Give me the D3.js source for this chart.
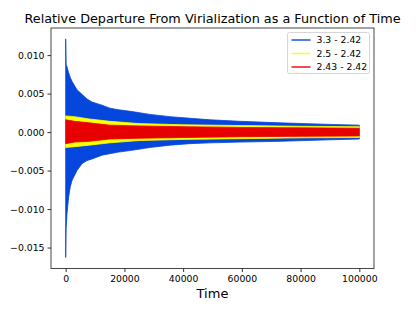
<!DOCTYPE html>
<html>
<head>
<meta charset="utf-8">
<script src="https://cdn.jsdelivr.net/npm/d3@7"></script>
<style>
  body { margin: 0; background: #fff; }
  svg text { font-family: "DejaVu Sans", sans-serif; fill: #000; }
</style>
</head>
<body>
<div id="chart"></div>
<script>
// envelope of each oscillating series (upper / lower)
var blueTime  = [0, 150, 440, 1020, 1570, 2150, 3850, 5550, 7250, 8960, 12360, 15090, 18000, 22000, 28700, 35500, 42300, 49100, 59300, 73000, 90000, 100000]
var blueUpper = [0.0121, 0.0088, 0.0085, 0.0077, 0.0071, 0.0066, 0.0055, 0.0049, 0.0043, 0.0039, 0.0035, 0.0031, 0.0029, 0.0027, 0.0023, 0.0020, 0.0018, 0.0016, 0.0014, 0.0012, 0.0010, 0.0009]
var blueLower = [-0.0163, -0.0125, -0.0106, -0.0084, -0.0071, -0.0063, -0.0050, -0.0041, -0.0037, -0.0035, -0.0030, -0.0028, -0.0026, -0.0024, -0.0020, -0.0017, -0.0015, -0.0014, -0.0013, -0.0012, -0.0010, -0.0009]

var yellowTime  = [0, 3000, 8000, 15000, 25000, 40000, 60000, 80000, 100000]
var yellowUpper = [0.0021, 0.0020, 0.0017, 0.0014, 0.0011, 0.00095, 0.00085, 0.00075, 0.0007]
var yellowLower = [-0.0020, -0.0019, -0.0017, -0.0014, -0.0011, -0.00095, -0.00085, -0.00075, -0.0007]

var redTime  = [0, 3000, 8000, 15000, 25000, 40000, 60000, 80000, 100000]
var redUpper = [0.0016, 0.0014, 0.0012, 0.0009, 0.0008, 0.0007, 0.0006, 0.00055, 0.0005]
var redLower = [-0.0015, -0.0013, -0.0012, -0.0009, -0.0008, -0.0007, -0.0006, -0.00055, -0.0005]

var seriesNames = ["3.3 - 2.42", "2.5 - 2.42", "2.43 - 2.42"]
var seriesColors = ["#0546dc", "#ffff00", "#e60000"]

var xTicks = [0, 20000, 40000, 60000, 80000, 100000]
var yTicks = [0.010, 0.005, 0.000, -0.005, -0.010, -0.015]

var width = 416, height = 319
var margin = {top: 28, right: 42, bottom: 50.5, left: 51}

var svg = d3.select("#chart")
  .append("svg")
    .attr("width", width)
    .attr("height", height)

// matplotlib-like 5% padding
var yMin = d3.min(blueLower), yMax = d3.max(blueUpper)
var yPad = (yMax - yMin) * 0.05
var x = d3.scaleLinear()
  .domain([-5000, 105000])
  .range([margin.left, width - margin.right])
var y = d3.scaleLinear()
  .domain([yMin - yPad, yMax + yPad])
  .range([height - margin.bottom, margin.top])

var series = [
  {time: blueTime, up: blueUpper, lo: blueLower},
  {time: yellowTime, up: yellowUpper, lo: yellowLower},
  {time: redTime, up: redUpper, lo: redLower}
]

series.forEach(function(s, k) {
  var pts = s.time.map(function(t, i) { return [t, s.up[i], s.lo[i]] })
  svg.append("path")
    .datum(pts)
    .attr("fill", seriesColors[k])
    .attr("stroke", seriesColors[k])
    .attr("stroke-width", 0.8)
    .attr("d", d3.area()
      .x(function(d) { return x(d[0]) })
      .y0(function(d) { return y(d[2]) })
      .y1(function(d) { return y(d[1]) }))
})

// axes
var fmtY = function(d) { return d3.format(".3f")(d).replace("-", "\u2212") }
var xAxis = svg.append("g")
  .attr("transform", "translate(0," + (height - margin.bottom) + ")")
  .call(d3.axisBottom(x).tickValues(xTicks).tickFormat(d3.format("d")).tickSize(3.5).tickPadding(3))
var yAxis = svg.append("g")
  .attr("transform", "translate(" + margin.left + ",0)")
  .call(d3.axisLeft(y).tickValues(yTicks).tickFormat(fmtY).tickSize(3.5).tickPadding(3))
svg.selectAll(".domain").remove()
svg.selectAll(".tick line").attr("stroke", "#333")
svg.selectAll(".tick text").attr("font-size", 9.3).attr("font-family", "DejaVu Sans").attr("fill", "#111")

// frame
svg.append("rect")
  .attr("x", margin.left)
  .attr("y", margin.top)
  .attr("width", width - margin.left - margin.right)
  .attr("height", height - margin.top - margin.bottom)
  .attr("fill", "none")
  .attr("stroke", "#333")
  .attr("stroke-width", 0.9)

// title and label
svg.append("text")
  .attr("x", (margin.left + width - margin.right) / 2)
  .attr("y", 22.5)
  .attr("text-anchor", "middle")
  .attr("font-size", 12.8)
  .text("Relative Departure From Virialization as a Function of Time")

svg.append("text")
  .attr("x", (margin.left + width - margin.right) / 2)
  .attr("y", 298)
  .attr("text-anchor", "middle")
  .attr("font-size", 13)
  .text("Time")

// legend
var leg = svg.append("g").attr("transform", "translate(287.5,32.5)")
leg.append("rect")
  .attr("width", 82)
  .attr("height", 41)
  .attr("rx", 2)
  .attr("fill", "#fff")
  .attr("fill-opacity", 0.8)
  .attr("stroke", "#ccc")
  .attr("stroke-width", 0.8)
seriesNames.forEach(function(name, i) {
  var yy = 7.5 + i * 13.5
  leg.append("line")
    .attr("x1", 4).attr("x2", 23)
    .attr("y1", yy).attr("y2", yy)
    .attr("stroke", seriesColors[i])
    .attr("stroke-width", 1.4)
  leg.append("text")
    .attr("x", 29)
    .attr("y", yy + 3.4)
    .attr("font-size", 9.3)
    .text(name)
})
</script>
</body>
</html>
